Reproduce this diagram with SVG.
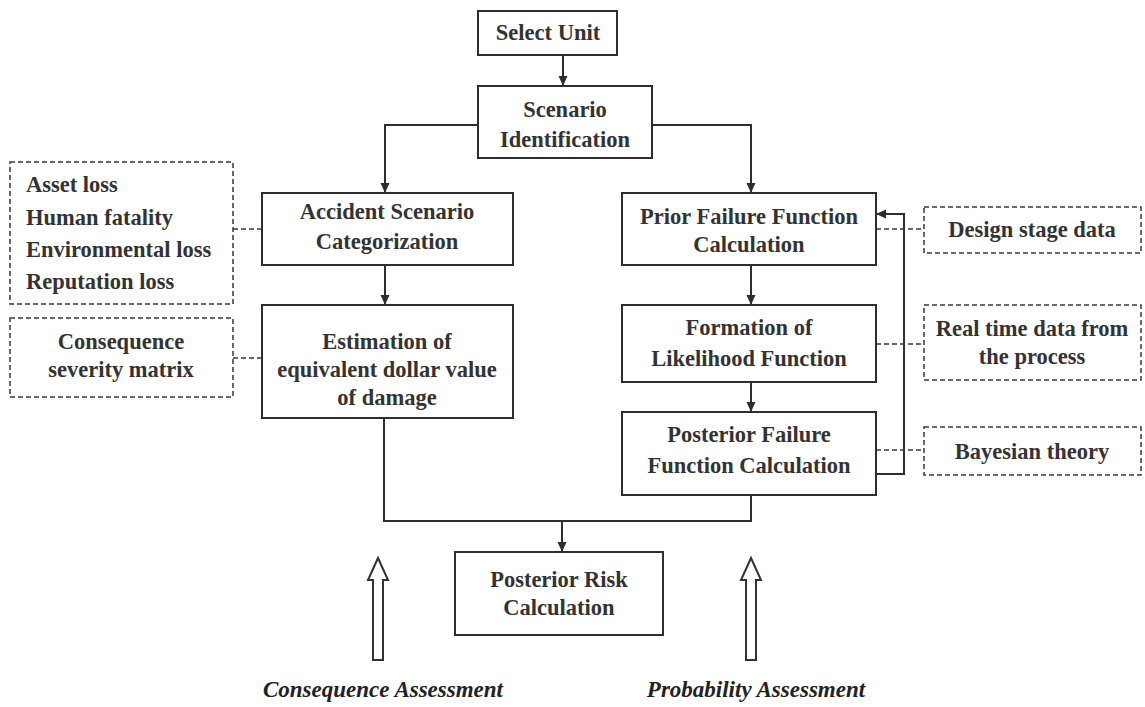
<svg xmlns="http://www.w3.org/2000/svg" width="1145" height="707" viewBox="0 0 1145 707">
<style>
.box{fill:#fff;stroke:#2e2e2e;stroke-width:2}
.dbox{fill:#fff;stroke:#3a3a3a;stroke-width:1.5;stroke-dasharray:5 3}
.t{font-family:"Liberation Serif","Times New Roman",serif;font-weight:bold;font-size:22.5px;fill:#333;text-anchor:middle}
.tl{text-anchor:start}
.lab{font-family:"Liberation Serif","Times New Roman",serif;font-weight:bold;font-style:italic;font-size:23px;fill:#222;text-anchor:middle}
.c{fill:none;stroke:#2e2e2e;stroke-width:2}
.dc{fill:none;stroke:#3a3a3a;stroke-width:1.5;stroke-dasharray:5 3}
.hollow{fill:#fff;stroke:#333;stroke-width:2}
</style>
<defs>
<marker id="ah" markerUnits="userSpaceOnUse" markerWidth="10" markerHeight="10" refX="10" refY="5" orient="auto">
<path d="M0,0.5 L10,5 L0,9.5 z" fill="#2e2e2e"/>
</marker>
</defs>
<rect width="1145" height="707" fill="#fff"/>

<g id="connectors">
<line class="c" x1="563" y1="55" x2="563" y2="86" marker-end="url(#ah)"/>
<path class="c" d="M478,125 H385 V193" marker-end="url(#ah)"/>
<path class="c" d="M652,125 H751 V193" marker-end="url(#ah)"/>
<line class="c" x1="385" y1="265" x2="385" y2="305" marker-end="url(#ah)"/>
<line class="c" x1="751" y1="265" x2="751" y2="305" marker-end="url(#ah)"/>
<line class="c" x1="751" y1="382" x2="751" y2="412" marker-end="url(#ah)"/>
<path class="c" d="M876,474 H904 V214 H876" marker-end="url(#ah)"/>
<path class="c" d="M384,418 V521 H751 V495"/>
<line class="c" x1="562" y1="521" x2="562" y2="552" marker-end="url(#ah)"/>
<line class="dc" x1="233" y1="229" x2="262" y2="229"/>
<line class="dc" x1="233" y1="358" x2="262" y2="358"/>
<line class="dc" x1="876" y1="229" x2="924" y2="229"/>
<line class="dc" x1="876" y1="344" x2="924" y2="344"/>
<line class="dc" x1="876" y1="450" x2="924" y2="450"/>
</g>

<g id="select-unit">
<rect class="box" x="478" y="11" width="139" height="44"/>
<text class="t" x="548" y="40">Select Unit</text>
</g>
<g id="scenario-identification">
<rect class="box" x="478" y="86" width="174" height="72"/>
<text class="t" x="565" y="117">Scenario</text>
<text class="t" x="565" y="147">Identification</text>
</g>
<g id="accident-scenario">
<rect class="box" x="262" y="193" width="251" height="72"/>
<text class="t" x="387" y="219">Accident Scenario</text>
<text class="t" x="387" y="249">Categorization</text>
</g>
<g id="estimation">
<rect class="box" x="262" y="305" width="251" height="113"/>
<text class="t" x="387" y="349">Estimation of</text>
<text class="t" x="387" y="377">equivalent dollar value</text>
<text class="t" x="387" y="405">of damage</text>
</g>
<g id="loss-types">
<rect class="dbox" x="10" y="162" width="223" height="142"/>
<text class="t tl" x="26" y="192">Asset loss</text>
<text class="t tl" x="26" y="225">Human fatality</text>
<text class="t tl" x="26" y="257">Environmental loss</text>
<text class="t tl" x="26" y="289">Reputation loss</text>
</g>
<g id="consequence-matrix">
<rect class="dbox" x="10" y="318" width="223" height="79"/>
<text class="t" x="121" y="349">Consequence</text>
<text class="t" x="121" y="377">severity matrix</text>
</g>
<g id="prior-failure">
<rect class="box" x="622" y="193" width="254" height="72"/>
<text class="t" x="749" y="224">Prior Failure Function</text>
<text class="t" x="749" y="252">Calculation</text>
</g>
<g id="likelihood">
<rect class="box" x="622" y="305" width="254" height="77"/>
<text class="t" x="749" y="335">Formation of</text>
<text class="t" x="749" y="366">Likelihood Function</text>
</g>
<g id="posterior-failure">
<rect class="box" x="622" y="412" width="254" height="83"/>
<text class="t" x="749" y="442">Posterior Failure</text>
<text class="t" x="749" y="473">Function Calculation</text>
</g>
<g id="design-data">
<rect class="dbox" x="924" y="207" width="217" height="46"/>
<text class="t" x="1032" y="237">Design stage data</text>
</g>
<g id="real-time-data">
<rect class="dbox" x="924" y="305" width="217" height="75"/>
<text class="t" x="1032" y="336">Real time data from</text>
<text class="t" x="1032" y="364">the process</text>
</g>
<g id="bayesian">
<rect class="dbox" x="924" y="427" width="217" height="48"/>
<text class="t" x="1032" y="459">Bayesian theory</text>
</g>
<g id="posterior-risk">
<rect class="box" x="455" y="552" width="208" height="83"/>
<text class="t" x="559" y="587">Posterior Risk</text>
<text class="t" x="559" y="615">Calculation</text>
</g>
<g id="consequence-assessment">
<path class="hollow" d="M378,558 L388,580 L383,580 L383,660 L373,660 L373,580 L368,580 Z"/>
<text class="lab" x="383" y="697">Consequence Assessment</text>
</g>
<g id="probability-assessment">
<path class="hollow" d="M751,558 L761,580 L756,580 L756,660 L746,660 L746,580 L741,580 Z"/>
<text class="lab" x="756" y="697">Probability Assessment</text>
</g>
</svg>
